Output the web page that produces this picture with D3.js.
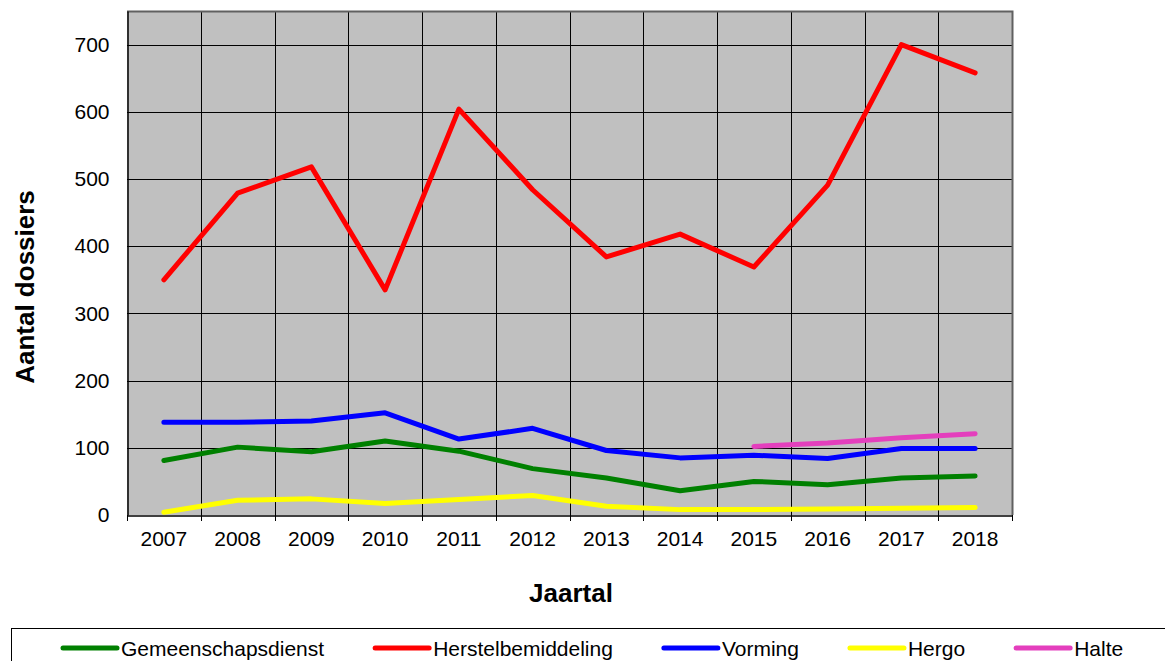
<html lang="nl">
<head>
<meta charset="utf-8">
<title>Aantal dossiers per jaar</title>
<script src="https://d3js.org/d3.v7.min.js"></script>
<style>
  body { margin: 0; background: #fff; font-family: "Liberation Sans", Arial, sans-serif; }
  .tick text { font-size: 21px; fill: #000; }
  .title { font-size: 26px; font-weight: bold; }
  .legend text { font-size: 21px; }
</style>
</head>
<body>
<div class="main"></div>
<script>
  var years = ["2007","2008","2009","2010","2011","2012","2013","2014","2015","2016","2017","2018"]
  var yTicks = [0, 100, 200, 300, 400, 500, 600, 700]

  var gemeenschapsdienst = [81, 101, 94, 110, 95, 69, 55, 36, 50, 45, 55, 58]
  var herstelbemiddeling = [350, 479, 518, 335, 604, 484, 384, 418, 369, 491, 700, 658]
  var vorming = [138, 138, 140, 152, 113, 129, 96, 85, 89, 84, 99, 99]
  var hergo = [4, 22, 24, 17, 23, 29, 13, 8, 8, 9, 10, 11]
  var halte = [null, null, null, null, null, null, null, null, 102, 107, 115, 121]

  var series = [
    {name: "Gemeenschapsdienst", values: gemeenschapsdienst, color: "#008000"},
    {name: "Herstelbemiddeling", values: herstelbemiddeling, color: "#ff0000"},
    {name: "Vorming", values: vorming, color: "#0000ff"},
    {name: "Hergo", values: hergo, color: "#ffff00"},
    {name: "Halte", values: halte, color: "#e43fbd"}
  ]

  var width = 1165
  var height = 661
  var plot = {left: 127, top: 11, right: 1012, bottom: 515}

  var svg = d3.select(".main")
    .append("svg")
    .attr("width", width)
    .attr("height", height)

  var x = d3.scaleBand()
    .domain(years)
    .range([plot.left, plot.right])

  var y = d3.scaleLinear()
    .domain([0, 750])
    .range([plot.bottom, plot.top])

  // plot background
  svg.append("rect")
    .attr("x", plot.left)
    .attr("y", plot.top)
    .attr("width", plot.right - plot.left)
    .attr("height", plot.bottom - plot.top)
    .attr("fill", "#c0c0c0")

  // horizontal gridlines
  svg.append("g")
    .selectAll("line")
    .data(yTicks.slice(1))
    .enter()
    .append("line")
    .attr("x1", plot.left)
    .attr("x2", plot.right)
    .attr("y1", function(d){ return Math.round(y(d)) + 0.5 })
    .attr("y2", function(d){ return Math.round(y(d)) + 0.5 })
    .attr("stroke", "#000")
    .attr("stroke-width", 1)

  // vertical gridlines at band edges
  svg.append("g")
    .selectAll("line")
    .data(years.slice(1))
    .enter()
    .append("line")
    .attr("x1", function(d){ return Math.round(x(d)) + 0.5 })
    .attr("x2", function(d){ return Math.round(x(d)) + 0.5 })
    .attr("y1", plot.top)
    .attr("y2", plot.bottom + 6)
    .attr("stroke", "#000")
    .attr("stroke-width", 1)

  // top and right border
  svg.append("path")
    .attr("d", "M" + plot.left + "," + (plot.top + 0.5) + "H" + (plot.right + 0.5) + "V" + plot.bottom)
    .attr("fill", "none")
    .attr("stroke", "#606060")
    .attr("stroke-width", 2)

  // y axis
  var yAxis = svg.append("g")
    .attr("transform", "translate(" + (plot.left + 0.5) + ",0)")
    .call(d3.axisLeft(y).tickValues(yTicks).tickSize(0).tickPadding(18))
  yAxis.select(".domain").attr("stroke", "#000").attr("stroke-width", 1.5)
  yAxis.selectAll("text").style("font-family", "Liberation Sans, Arial, sans-serif")

  // x axis
  var xAxis = svg.append("g")
    .attr("transform", "translate(0," + (plot.bottom + 0.5) + ")")
    .call(d3.axisBottom(x).tickSize(0).tickPadding(16))
  xAxis.select(".domain").attr("stroke", "#000").attr("stroke-width", 1.5)
  xAxis.selectAll("text").style("font-family", "Liberation Sans, Arial, sans-serif")

  // outer tick marks at edges
  svg.append("g")
    .selectAll("line")
    .data([plot.left, plot.right])
    .enter()
    .append("line")
    .attr("x1", function(d){ return d + 0.5 })
    .attr("x2", function(d){ return d + 0.5 })
    .attr("y1", plot.bottom)
    .attr("y2", plot.bottom + 6)
    .attr("stroke", "#000")

  // lines
  var line = d3.line()
    .defined(function(d){ return d != null })
    .x(function(d, i){ return x(years[i]) + x.bandwidth() / 2 })
    .y(function(d){ return y(d) })

  svg.append("g")
    .selectAll("path")
    .data(series)
    .enter()
    .append("path")
    .attr("d", function(d){ return line(d.values) })
    .attr("fill", "none")
    .attr("stroke", function(d){ return d.color })
    .attr("stroke-width", 5)
    .attr("stroke-linecap", "round")
    .attr("stroke-linejoin", "round")

  // axis titles
  svg.append("text")
    .attr("class", "title")
    .attr("transform", "translate(34,287) rotate(-90)")
    .attr("text-anchor", "middle")
    .text("Aantal dossiers")

  svg.append("text")
    .attr("class", "title")
    .attr("x", 571)
    .attr("y", 602)
    .attr("text-anchor", "middle")
    .text("Jaartal")

  // legend
  svg.append("rect")
    .attr("x", 11.5)
    .attr("y", 628.5)
    .attr("width", 1200)
    .attr("height", 100)
    .attr("fill", "#fff")
    .attr("stroke", "#000")

  var legend = svg.append("g").attr("class", "legend")
  var lx = 63
  series.forEach(function(s){
    legend.append("line")
      .attr("x1", lx)
      .attr("x2", lx + 54)
      .attr("y1", 648)
      .attr("y2", 648)
      .attr("stroke", s.color)
      .attr("stroke-width", 5)
      .attr("stroke-linecap", "round")
    var t = legend.append("text")
      .attr("x", lx + 58)
      .attr("y", 656)
      .text(s.name)
    lx = lx + 58 + t.node().getComputedTextLength() + 51
  })
</script>
</body>
</html>
